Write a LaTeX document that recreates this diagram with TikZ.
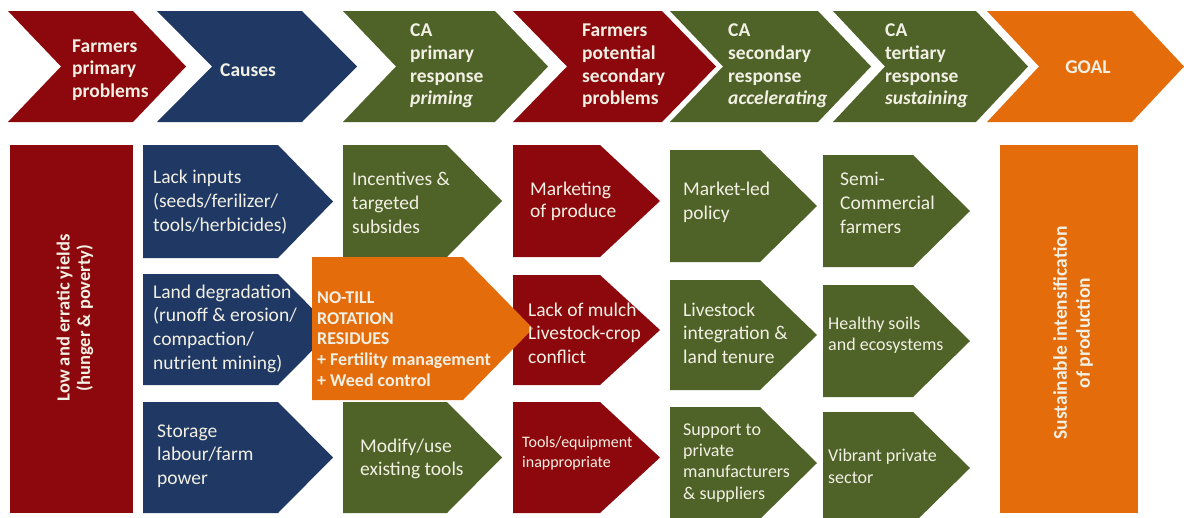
\documentclass[tikz,border=0pt]{standalone}
\usepackage{fontspec}
\setmainfont{Carlito}
\usetikzlibrary{calc}
\definecolor{cred}{RGB}{140,8,12}
\definecolor{cblue}{RGB}{31,56,100}
\definecolor{cgreen}{RGB}{79,98,40}
\definecolor{corange}{RGB}{228,108,10}
\definecolor{ctxt}{RGB}{242,240,228}
\newcommand\chev[6]{% left, top-right x, top y, bottom y, depth, colour (notched)
  \pgfmathsetmacro\ym{(#3+#4)/2}\pgfmathsetmacro\xt{#2+#5}\pgfmathsetmacro\xn{#1+#5}
  \fill[#6] (#1,#3) -- (#2,#3) -- (\xt,\ym) -- (#2,#4) -- (#1,#4) -- (\xn,\ym) -- cycle;}
\newcommand\pent[6]{% left, top-right x, top y, bottom y, depth, colour (flat left)
  \pgfmathsetmacro\ym{(#3+#4)/2}\pgfmathsetmacro\xt{#2+#5}
  \fill[#6] (#1,#3) -- (#2,#3) -- (\xt,\ym) -- (#2,#4) -- (#1,#4) -- cycle;}
\begin{document}
\begin{tikzpicture}[x=1pt,y=-1pt,
  head/.style={text=ctxt,inner sep=0pt,align=left,anchor=west,font=\bfseries\fontsize{19.5}{22.7}\selectfont},
  body/.style={text=ctxt,inner sep=0pt,align=left,anchor=west,font=\fontsize{19.5}{23.7}\selectfont},
  bodys/.style={text=ctxt,inner sep=0pt,align=left,anchor=west,font=\fontsize{18}{21.2}\selectfont},
  vert/.style={text=ctxt,inner sep=0pt,align=center,rotate=90,font=\bfseries\fontsize{18.5}{20.5}\selectfont}]
\clip (0,0) rectangle (1184,517);
\fill[white] (0,0) rectangle (1184,517);
% header chevrons
\chev{8}{133}{11}{122}{53}{cred}
\chev{157}{302}{11}{122}{55}{cblue}
\chev{343}{495}{11}{122}{53}{cgreen}
\chev{513}{662}{11}{122}{54}{cred}
\chev{670}{818}{11}{122}{53}{cgreen}
\chev{833}{976}{11}{122}{52}{cgreen}
\chev{987}{1132}{11}{122}{52}{corange}
% body shapes
\fill[cred] (10,145) rectangle (133,513);
\fill[corange] (1000,145) rectangle (1138,513);
\pent{143}{278}{145}{258}{55}{cblue}
\pent{143}{278}{274}{385}{55}{cblue}
\pent{143}{278}{402}{513}{55}{cblue}
\pent{343}{447}{145}{257}{55}{cgreen}
\pent{343}{447}{402}{513}{55}{cgreen}
\pent{513}{600}{145}{257}{60}{cred}
\pent{513}{600}{275}{385}{60}{cred}
\pent{513}{600}{402}{513}{60}{cred}
\pent{312}{463}{257}{400}{70}{corange}
\pent{670}{760}{150}{262}{57}{cgreen}
\pent{670}{760}{280}{390}{57}{cgreen}
\pent{670}{760}{407}{519}{57}{cgreen}
\pent{823}{913}{155}{267}{57}{cgreen}
\pent{823}{913}{285}{397}{57}{cgreen}
\pent{823}{913}{412}{524}{57}{cgreen}
% header texts
\node[head] (h1) at (72,70) {Farmers\\primary\\problems};
\node[head] (h2) at (220,70) {Causes};
\node[head] (h3) at (410,66) {CA\\primary\\response\\\textit{priming}};
\node[head] (h4) at (582,66) {Farmers\\potential\\secondary\\problems};
\node[head] (h5) at (728,66) {CA\\secondary\\response\\\textit{accelerating}};
\node[head] (h6) at (885,66) {CA\\tertiary\\response\\\textit{sustaining}};
\node[head,anchor=center] (h7) at (1088,67) {GOAL};
% body texts
\node[vert] (v1) at (75,318) {Low and erratic yields\\(hunger \& poverty)};
\node[vert,font=\bfseries\fontsize{19.5}{23}\selectfont] (v2) at (1073,333) {Sustainable intensification\\of production};
\node[body] (b1) at (153,202) {Lack inputs\\(seeds/ferilizer/\\tools/herbicides)};
\node[body] (b2) at (153,328.5) {Land degradation\\(runoff \& erosion/\\compaction/\\nutrient mining)};
\node[body] (b3) at (157,456) {Storage\\labour/farm\\power};
\node[body] (g1) at (352,203) {Incentives \&\\targeted\\subsides};
\node[body] (g3) at (360,459) {Modify/use\\existing tools};
\node[text=ctxt,inner sep=0pt,align=left,anchor=west,font=\bfseries\fontsize{18}{20.7}\selectfont] (o1) at (317,339)
  {NO-TILL\\ROTATION\\RESIDUES\\+ Fertility management\\+ Weed control};
\node[body,font=\fontsize{19.5}{22}\selectfont] (r1) at (530,201) {Marketing\\of produce};
\node[body] (r2) at (528,333) {Lack of mulch\\Livestock-crop\\conflict};
\node[body,font=\fontsize{16}{20}\selectfont] (r3) at (522,453) {Tools/equipment\\inappropriate};
\node[body] (c1) at (683,202) {Market-led\\policy};
\node[body] (c2) at (683,333) {Livestock\\integration \&\\land tenure};
\node[bodys] (c3) at (683,463) {Support to\\private\\manufacturers\\\& suppliers};
\node[body] (d1) at (840,203) {Semi-\\Commercial\\farmers};
\node[bodys] (d2) at (828,335) {Healthy soils\\and ecosystems};
\node[bodys,font=\fontsize{18}{22}\selectfont] (d3) at (828,466) {Vibrant private\\sector};
\end{tikzpicture}
\end{document}
